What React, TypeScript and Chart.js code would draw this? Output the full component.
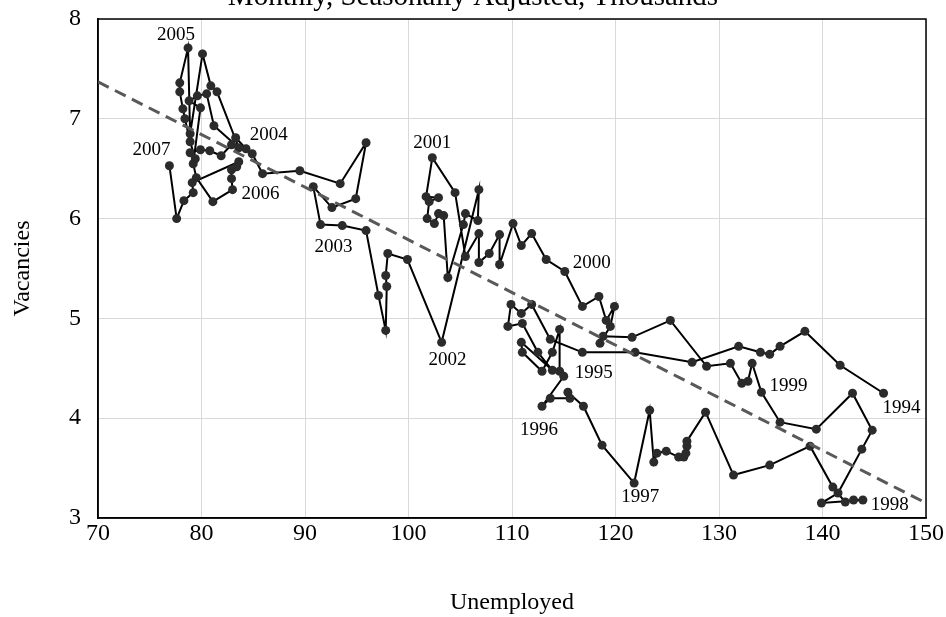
import React, { useEffect, useRef } from 'react';
import { Chart, registerables } from 'chart.js';

Chart.register(...registerables);

// Monthly path, Jan 1994 -> Jan 2007 (thousands)
const unemployed = [
  145.9, 141.7, 138.3, 135.9, 134.9, 134.0, 131.9, 127.4, 121.9, 116.8, 113.7, 111.9,
  110.9, 109.9, 109.6, 111.0, 112.5, 113.9, 110.9, 111.0, 112.9, 113.9, 114.6, 114.6,
  115.0, 112.9, 113.7, 115.6, 115.4, 116.9, 118.7,
  121.8, 123.3, 123.7, 124.0, 124.9, 126.1, 126.6, 126.8, 126.9, 126.9, 128.7, 131.4,
  134.9, 138.8, 141.0, 142.2, 143.0, 143.9, 139.9, 141.5, 143.8, 144.8, 142.9, 139.4,
  135.9, 134.1, 133.2, 132.8, 132.2, 131.1, 128.8, 125.3, 121.6, 118.8, 118.5, 119.5,
  119.9, 119.1, 118.4, 116.8, 115.1, 113.3, 111.9, 110.9, 110.1, 108.8, 108.8, 107.8,
  106.8, 106.8, 105.5, 104.5, 102.3, 101.7, 102.9, 102.0, 101.8, 102.5, 102.9, 103.4,
  103.8, 105.3, 105.5, 106.7, 106.8, 103.2, 99.9, 98.0, 97.8, 97.9, 97.8, 97.1,
  95.9, 93.6, 91.5, 90.8, 92.6, 94.9, 95.9, 93.4, 89.5, 85.9, 84.9, 84.3,
  83.3, 82.9, 81.9, 80.8, 79.9, 78.9, 79.4, 78.9, 78.4, 78.2, 77.9, 77.9,
  78.7, 78.9, 80.1, 80.9, 81.5, 83.6, 81.2, 80.5, 79.6, 78.8, 79.9, 79.2,
  79.5, 81.1, 83.0, 82.9, 82.9, 83.4, 83.6, 79.1, 79.2, 78.3, 77.6, 76.9,
];

const vacancies = [
  4.25, 4.53, 4.87, 4.72, 4.64, 4.66, 4.72, 4.56, 4.66, 4.66, 4.79, 5.14,
  5.05, 5.14, 4.92, 4.95, 4.66, 4.48, 4.76, 4.66, 4.47, 4.66, 4.89, 4.47,
  4.42, 4.12, 4.20, 4.20, 4.26, 4.12, 3.73,
  3.35, 4.08, 3.56, 3.65, 3.67, 3.61, 3.61, 3.65, 3.72, 3.77, 4.06, 3.43,
  3.53, 3.72, 3.31, 3.16, 3.18, 3.18, 3.15, 3.25, 3.69, 3.88, 4.25, 3.89,
  3.96, 4.26, 4.55, 4.37, 4.35, 4.55, 4.52, 4.98, 4.81, 4.82, 4.75, 4.92,
  5.12, 4.98, 5.22, 5.12, 5.47, 5.59, 5.85, 5.73, 5.95, 5.54, 5.84, 5.65,
  5.56, 5.85, 5.62, 6.26, 6.61, 6.22, 6.21, 6.17, 6.00, 5.95, 6.05, 6.03,
  5.41, 5.94, 6.05, 5.98, 6.29, 4.76, 5.59, 5.65, 5.43, 5.32, 4.88, 5.23,
  5.88, 5.93, 5.94, 6.32, 6.11, 6.20, 6.76, 6.35, 6.48, 6.45, 6.65, 6.70,
  6.81, 6.74, 6.63, 6.68, 6.69, 6.66, 6.60, 6.77, 7.00, 7.10, 7.27, 7.36,
  7.71, 6.85, 7.65, 7.33, 7.27, 6.71, 6.93, 7.25, 7.23, 7.18, 7.11, 6.55,
  6.41, 6.17, 6.29, 6.40, 6.49, 6.52, 6.57, 6.36, 6.26, 6.18, 6.00, 6.53,
];

// Year annotations and the point each one marks
const labelYears = ['1994', '1995', '1996', '1997', '1998', '1999', '2000', '2001', '2002', '2003', '2004', '2005', '2006', '2007'];
const labelIndex = [0, 24, 25, 31, 48, 56, 71, 83, 96, 105, 115, 127, 141, 150];

// Fitted trend line end points
const trendX = [70, 150];
const trendY = [7.37, 3.15];

// Axis settings
const xMin = 70, xMax = 150, xStep = 10;
const yMin = 3, yMax = 8, yStep = 1;

const chartTitle = 'Monthly, Seasonally Adjusted, Thousands';
const xTitle = 'Unemployed';
const yTitle = 'Vacancies';

// label placement (pixel offsets from marked point) — styling only
const labelOffset: Record<string, [number, number]> = {
  '1994': [18, 15], '1995': [30, -3], '1996': [-3, 24], '1997': [6, 14],
  '1998': [27, 5], '1999': [27, -6], '2000': [27, -8], '2001': [0, -15],
  '2002': [6, 18], '2003': [13, 22], '2004': [33, -3], '2005': [-12, -13],
  '2006': [28, 4], '2007': [-18, -16],
};

const SERIF = "'Liberation Serif', 'Times New Roman', serif";

const framePlugin = {
  id: 'frame',
  beforeDatasetsDraw(chart: any) {
    const { ctx, chartArea } = chart;
    ctx.save();
    ctx.strokeStyle = '#000';
    ctx.lineWidth = 1.5;
    ctx.strokeRect(chartArea.left, chartArea.top, chartArea.right - chartArea.left, chartArea.bottom - chartArea.top);
    ctx.restore();
  },
};

const yearLabelPlugin = {
  id: 'yearLabels',
  afterDatasetsDraw(chart: any) {
    const meta = chart.getDatasetMeta(1);
    const { ctx } = chart;
    ctx.save();
    ctx.font = `19px ${SERIF}`;
    ctx.fillStyle = '#000';
    ctx.textAlign = 'center';
    ctx.textBaseline = 'middle';
    labelYears.forEach((yr, i) => {
      const el = meta.data[labelIndex[i]];
      if (!el) return;
      const [dx, dy] = labelOffset[yr] || [0, 0];
      ctx.fillText(yr, el.x + dx, el.y + dy);
    });
    ctx.restore();
  },
};

export default function App() {
  const ref = useRef<HTMLCanvasElement | null>(null);

  useEffect(() => {
    if (!ref.current) return;
    const pathData = unemployed.map((u, i) => ({ x: u, y: vacancies[i] }));
    const trendData = trendX.map((x, i) => ({ x, y: trendY[i] }));
    const chart = new Chart(ref.current, {
      type: 'scatter',
      data: {
        datasets: [
          {
            label: 'Trend',
            data: trendData,
            showLine: true,
            borderColor: '#595959',
            borderWidth: 3,
            borderDash: [12, 7],
            pointRadius: 0,
            fill: false,
            order: 0,
          },
          {
            label: 'Vacancies vs Unemployed',
            data: pathData,
            showLine: true,
            borderColor: '#000',
            borderWidth: 2,
            pointRadius: 4.5,
            pointBackgroundColor: '#2b2b2b',
            pointBorderWidth: 0,
            tension: 0,
            fill: false,
            order: 1,
          },
        ],
      },
      options: {
        animation: false,
        responsive: false,
        layout: { padding: { left: 0, right: 0, top: 0, bottom: 0 } },
        plugins: {
          legend: { display: false },
          tooltip: { enabled: false },
          title: {
            display: true,
            text: chartTitle,
            color: '#000',
            font: { family: SERIF, size: 29, weight: 'normal' },
            padding: { top: 19.8, bottom: 4.4 },
          },
        },
        scales: {
          x: {
            type: 'linear',
            min: xMin,
            max: xMax,
            afterFit: (s: any) => { s.paddingRight = 20; },
            ticks: { stepSize: xStep, color: '#000', font: { family: SERIF, size: 24 }, padding: 1, maxRotation: 0 },
            grid: { color: '#d9d9d9', lineWidth: 1, drawTicks: false },
            border: { color: '#000', width: 1.5 },
            title: { display: true, text: xTitle, color: '#000', font: { family: SERIF, size: 24 }, padding: { top: 39.4, bottom: 0 } },
          },
          y: {
            type: 'linear',
            min: yMin,
            max: yMax,
            ticks: { stepSize: yStep, color: '#000', font: { family: SERIF, size: 24 }, padding: 17 },
            grid: { color: '#d9d9d9', lineWidth: 1, drawTicks: false },
            border: { color: '#000', width: 1.5 },
            title: { display: true, text: yTitle, color: '#000', font: { family: SERIF, size: 24 }, padding: { top: 8, bottom: 15.2 } },
          },
        },
      },
      plugins: [framePlugin, yearLabelPlugin],
    });
    return () => chart.destroy();
  }, []);

  return (
    <div style={{ position: 'absolute', left: 0, top: 0, width: 946, height: 617, overflow: 'hidden', background: '#fff' }}>
      <canvas
        ref={ref}
        width={946}
        height={657}
        style={{ position: 'absolute', left: 0, top: -40, width: 946, height: 657 }}
      />
    </div>
  );
}
